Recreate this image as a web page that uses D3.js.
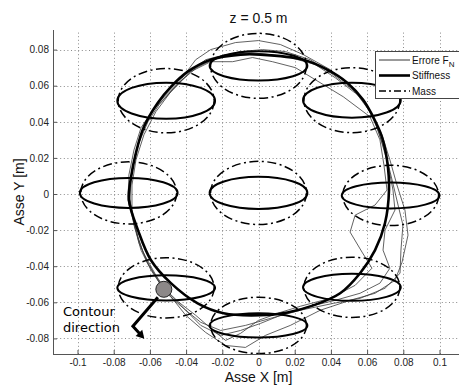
<!DOCTYPE html>
<html>
<head>
<meta charset="utf-8">
<script src="https://cdn.jsdelivr.net/npm/d3@7"></script>
<style>
  html, body { margin: 0; padding: 0; background: #fff; }
  svg { display: block; }
</style>
</head>
<body>
<svg id="chart" width="459" height="385"></svg>
<script>
// ---- tick values and labels ----
const xTickValues = [-0.1, -0.08, -0.06, -0.04, -0.02, 0, 0.02, 0.04, 0.06, 0.08, 0.1];
const xTickLabels = ["-0.1", "-0.08", "-0.06", "-0.04", "-0.02", "0", "0.02", "0.04", "0.06", "0.08", "0.1"];
const yTickValues = [-0.08, -0.06, -0.04, -0.02, 0, 0.02, 0.04, 0.06, 0.08];
const yTickLabels = ["-0.08", "-0.06", "-0.04", "-0.02", "0", "0.02", "0.04", "0.06", "0.08"];

// ---- ellipse centres along the contour (m) ----
const ellipseCenterX = [-0.051, 0, 0.0516, -0.0717, 0, 0.073, -0.051, 0, 0.0516];
const ellipseCenterY = [0.0517, 0.071, 0.052, 0.0006, 0.0006, -0.0008, -0.052, -0.0728, -0.0517];
// stiffness ellipse semi-axes (m)
const stiffnessRx = [0.027, 0.027, 0.027, 0.027, 0.027, 0.027, 0.027, 0.027, 0.027];
const stiffnessRy = [0.0100, 0.0081, 0.0097, 0.0083, 0.0089, 0.0072, 0.0070, 0.0067, 0.0075];
// mass ellipse semi-axes (m)
const massRx = [0.0265, 0.0265, 0.0265, 0.0265, 0.0265, 0.0265, 0.0265, 0.0265, 0.0265];
const massRy = [0.0178, 0.0180, 0.0180, 0.0172, 0.0175, 0.0167, 0.0167, 0.0156, 0.0167];

// ---- thick "Stiffness" contour trajectory [x, y] (m) ----
const stiffnessPath = [
  [-0.0716, -0.0033], [-0.0704, 0.0094], [-0.0677, 0.0228], [-0.0633, 0.0372],
  [-0.0556, 0.0506], [-0.0484, 0.0594], [-0.0391, 0.0678], [-0.0264, 0.0744],
  [-0.0099, 0.0772], [0.0011, 0.0772], [0.0248, 0.0744], [0.0380, 0.0689],
  [0.0490, 0.0617], [0.0578, 0.0522], [0.0633, 0.0428], [0.0682, 0.0317],
  [0.0710, 0.0189], [0.0721, 0.0022], [0.0699, -0.0161], [0.0644, -0.0311],
  [0.0561, -0.0439], [0.0451, -0.0550], [0.0303, -0.0617], [0.0160, -0.0656],
  [0.0011, -0.0672], [-0.0193, -0.0661], [-0.0336, -0.0606], [-0.0484, -0.0494],
  [-0.0594, -0.0367], [-0.0666, -0.0200]
];

// ---- "Errore F_N" trajectories [x, y] (m) ----
const errorRunA = [
  [-0.0523, -0.0528], [-0.0594, -0.0422], [-0.0649, -0.0311], [-0.0688, -0.0172],
  [-0.0710, -0.0033], [-0.0704, 0.0089], [-0.0682, 0.0217], [-0.0638, 0.0356],
  [-0.0583, 0.0467], [-0.0512, 0.0550], [-0.0429, 0.0633], [-0.0347, 0.0744],
  [-0.0264, 0.0800], [-0.0127, 0.0839], [0.0000, 0.0850], [0.0121, 0.0828],
  [0.0248, 0.0772], [0.0396, 0.0689], [0.0517, 0.0589], [0.0605, 0.0478],
  [0.0660, 0.0356], [0.0704, 0.0217], [0.0738, 0.0078], [0.0771, -0.0061],
  [0.0798, -0.0172], [0.0787, -0.0311], [0.0782, -0.0439], [0.0699, -0.0522],
  [0.0561, -0.0578], [0.0413, -0.0606], [0.0231, -0.0644], [0.0066, -0.0689],
  [-0.0072, -0.0728], [-0.0209, -0.0756], [-0.0319, -0.0711], [-0.0402, -0.0644],
  [-0.0484, -0.0572], [-0.0523, -0.0528]
];
const errorRunB = [
  [-0.0539, -0.0506], [-0.0616, -0.0378], [-0.0666, -0.0244], [-0.0699, -0.0089],
  [-0.0699, 0.0050], [-0.0677, 0.0189], [-0.0633, 0.0328], [-0.0567, 0.0456],
  [-0.0484, 0.0567], [-0.0374, 0.0678], [-0.0264, 0.0733], [-0.0143, 0.0733],
  [-0.0033, 0.0756], [0.0077, 0.0733], [0.0204, 0.0700], [0.0314, 0.0633],
  [0.0468, 0.0539], [0.0616, 0.0428], [0.0671, 0.0300], [0.0693, 0.0161],
  [0.0710, 0.0022], [0.0644, -0.0061], [0.0534, -0.0117], [0.0506, -0.0211],
  [0.0572, -0.0322], [0.0627, -0.0411], [0.0534, -0.0506], [0.0396, -0.0578],
  [0.0231, -0.0622], [0.0121, -0.0656], [0.0000, -0.0700], [-0.0099, -0.0772],
  [-0.0182, -0.0811], [-0.0264, -0.0744], [-0.0347, -0.0672], [-0.0440, -0.0600],
  [-0.0539, -0.0506]
];
const errorRunC = [
  [-0.0512, -0.0533], [-0.0567, -0.0450], [-0.0638, -0.0322], [-0.0682, -0.0189],
  [-0.0721, -0.0033], [-0.0716, 0.0106], [-0.0688, 0.0244], [-0.0649, 0.0367],
  [-0.0594, 0.0450], [-0.0528, 0.0522], [-0.0440, 0.0617], [-0.0341, 0.0700],
  [-0.0220, 0.0761], [-0.0099, 0.0789], [0.0022, 0.0800], [0.0149, 0.0789],
  [0.0286, 0.0744], [0.0413, 0.0661], [0.0534, 0.0567], [0.0616, 0.0456],
  [0.0682, 0.0328], [0.0726, 0.0189], [0.0765, 0.0050], [0.0809, -0.0089],
  [0.0826, -0.0228], [0.0793, -0.0378], [0.0754, -0.0478], [0.0644, -0.0550],
  [0.0506, -0.0589], [0.0341, -0.0644], [0.0176, -0.0728], [0.0039, -0.0783],
  [-0.0072, -0.0850], [-0.0182, -0.0839], [-0.0292, -0.0767], [-0.0402, -0.0672],
  [-0.0512, -0.0533]
];
const errorRunD = [
  [-0.0528, -0.0517], [-0.0605, -0.0394], [-0.0660, -0.0272], [-0.0693, -0.0133],
  [-0.0716, -0.0006], [-0.0699, 0.0133], [-0.0666, 0.0272], [-0.0611, 0.0400],
  [-0.0550, 0.0494], [-0.0473, 0.0578], [-0.0385, 0.0672], [-0.0292, 0.0744],
  [-0.0182, 0.0772], [-0.0044, 0.0783], [0.0066, 0.0772], [0.0176, 0.0756],
  [0.0314, 0.0717], [0.0424, 0.0644], [0.0561, 0.0539], [0.0633, 0.0428],
  [0.0677, 0.0300], [0.0716, 0.0161], [0.0743, 0.0022], [0.0754, -0.0089],
  [0.0699, -0.0200], [0.0688, -0.0311], [0.0726, -0.0411], [0.0671, -0.0494],
  [0.0561, -0.0550], [0.0424, -0.0589], [0.0286, -0.0622], [0.0149, -0.0661],
  [0.0011, -0.0717], [-0.0099, -0.0756], [-0.0209, -0.0783], [-0.0319, -0.0728],
  [-0.0429, -0.0617], [-0.0528, -0.0517]
];

// ---- start marker and direction arrow (m) ----
const startPoint = [-0.0523, -0.0528];
const arrowPath = [[-0.0556, -0.0572], [-0.0694, -0.0733], [-0.0642, -0.0790]];

// ---- layout ----
const svg = d3.select("#chart");
const plot = { left: 53, right: 459, top: 30, bottom: 354 };

const x = d3.scaleLinear().domain([-0.1, 0.1]).range([77.5, 439.5]);
const y = d3.scaleLinear().domain([-0.08, 0.08]).range([338.4, 49.6]);

svg.append("defs").append("clipPath").attr("id", "plotClip")
  .append("rect")
  .attr("x", plot.left).attr("y", plot.top)
  .attr("width", plot.right - plot.left).attr("height", plot.bottom - plot.top);

// dotted grid
const grid = svg.append("g").attr("stroke", "#8a8a8a").attr("stroke-width", 1)
  .attr("stroke-dasharray", "1,2.6").attr("fill", "none");
grid.selectAll("line.vx").data(xTickValues).join("line")
  .attr("x1", d => Math.round(x(d)) + 0.5).attr("x2", d => Math.round(x(d)) + 0.5)
  .attr("y1", plot.bottom).attr("y2", plot.top);
grid.selectAll("line.hy").data(yTickValues).join("line")
  .attr("y1", d => Math.round(y(d)) + 0.5).attr("y2", d => Math.round(y(d)) + 0.5)
  .attr("x1", plot.left).attr("x2", plot.right);

const content = svg.append("g").attr("clip-path", "url(#plotClip)");

// force error runs
const thinLine = d3.line().x(d => x(d[0])).y(d => y(d[1])).curve(d3.curveLinear);
const errorRuns = [errorRunA, errorRunB, errorRunC, errorRunD];
content.append("g").selectAll("path").data(errorRuns).join("path")
  .attr("d", thinLine)
  .attr("fill", "none").attr("stroke", "#3a3a3a").attr("stroke-width", 0.8);

// mass ellipses (dash-dot)
const idx = d3.range(ellipseCenterX.length);
content.append("g").selectAll("ellipse").data(idx).join("ellipse")
  .attr("cx", i => x(ellipseCenterX[i])).attr("cy", i => y(ellipseCenterY[i]))
  .attr("rx", i => x(massRx[i]) - x(0)).attr("ry", i => y(0) - y(massRy[i]))
  .attr("fill", "none").attr("stroke", "#000").attr("stroke-width", 1.5)
  .attr("stroke-dasharray", "9,3.5,2,3.5");

// stiffness ellipses (solid)
content.append("g").selectAll("ellipse").data(idx).join("ellipse")
  .attr("cx", i => x(ellipseCenterX[i])).attr("cy", i => y(ellipseCenterY[i]))
  .attr("rx", i => x(stiffnessRx[i]) - x(0)).attr("ry", i => y(0) - y(stiffnessRy[i]))
  .attr("fill", "none").attr("stroke", "#000").attr("stroke-width", 2);

// stiffness trajectory (thick)
const closedLine = d3.line().x(d => x(d[0])).y(d => y(d[1])).curve(d3.curveCatmullRomClosed);
content.append("path").datum(stiffnessPath)
  .attr("d", closedLine)
  .attr("fill", "none").attr("stroke", "#000").attr("stroke-width", 2.6);

// axes
const axisColor = "#555";
const xAxis = d3.axisBottom(x).tickValues(xTickValues)
  .tickFormat((d, i) => xTickLabels[i]).tickSizeInner(-4).tickSizeOuter(0).tickPadding(5);
const gx = svg.append("g").attr("transform", `translate(0,${plot.bottom})`).call(xAxis);
gx.select(".domain").attr("d", `M${plot.left},0.5H${plot.right}`);

const yAxis = d3.axisLeft(y).tickValues(yTickValues)
  .tickFormat((d, i) => yTickLabels[i]).tickSizeInner(-4).tickSizeOuter(0).tickPadding(4);
const gy = svg.append("g").attr("transform", `translate(${plot.left},0)`).call(yAxis);
gy.select(".domain").attr("d", `M0.5,${plot.top}V${plot.bottom}`);

[gx, gy].forEach(g => {
  g.select(".domain").attr("stroke", axisColor).attr("stroke-width", 1);
  g.selectAll(".tick line").attr("stroke", axisColor);
  g.selectAll(".tick text").attr("fill", "#222")
    .style("font-family", "'Liberation Sans', Arial, sans-serif").style("font-size", "10px");
});

// axis titles and plot title
svg.append("text").attr("x", 258.5).attr("y", 382).attr("text-anchor", "middle")
  .style("font-family", "'Liberation Sans', Arial, sans-serif").style("font-size", "14px")
  .attr("fill", "#111").text("Asse X [m]");
svg.append("text").attr("transform", "translate(24,192) rotate(-90)").attr("text-anchor", "middle")
  .style("font-family", "'Liberation Sans', Arial, sans-serif").style("font-size", "14px")
  .attr("fill", "#111").text("Asse Y [m]");
svg.append("text").attr("x", 258.5).attr("y", 23).attr("text-anchor", "middle")
  .style("font-family", "'Liberation Sans', Arial, sans-serif").style("font-size", "14px")
  .attr("fill", "#111").text("z = 0.5 m");

// start marker and contour direction arrow
const arrowLine = d3.line().x(d => x(d[0])).y(d => y(d[1]));
svg.append("path").datum(arrowPath).attr("d", arrowLine)
  .attr("fill", "none").attr("stroke", "#000").attr("stroke-width", 3)
  .attr("stroke-linejoin", "miter");
{
  const p1 = arrowPath[arrowPath.length - 2], p2 = arrowPath[arrowPath.length - 1];
  const ax = x(p2[0]), ay = y(p2[1]);
  const ang = Math.atan2(ay - y(p1[1]), ax - x(p1[0]));
  const len = 8, half = 4.5;
  const tip = [ax + Math.cos(ang) * 3, ay + Math.sin(ang) * 3];
  const base = [tip[0] - Math.cos(ang) * len, tip[1] - Math.sin(ang) * len];
  const pts = [tip,
    [base[0] + Math.sin(ang) * half, base[1] - Math.cos(ang) * half],
    [base[0] - Math.sin(ang) * half, base[1] + Math.cos(ang) * half]];
  svg.append("polygon").attr("points", pts.map(p => p.join(",")).join(" ")).attr("fill", "#000");
}
svg.append("circle").attr("cx", x(startPoint[0])).attr("cy", y(startPoint[1])).attr("r", 8)
  .attr("fill", "#8c8888").attr("stroke", "#222").attr("stroke-width", 1);

const noteFont = "'DejaVu Sans', sans-serif";
svg.append("text").attr("x", 63).attr("y", 316).style("font-family", noteFont)
  .style("font-size", "13px").attr("fill", "#000").text("Contour");
svg.append("text").attr("x", 63).attr("y", 332).style("font-family", noteFont)
  .style("font-size", "13px").attr("fill", "#000").text("direction");

// legend
const legendItems = [
  { label: "Errore F", sub: "N", width: 0.8, dash: null },
  { label: "Stiffness", sub: null, width: 2.6, dash: null },
  { label: "Mass", sub: null, width: 1.5, dash: "7,3,2,3" }
];
const legendRowY = [60, 75.5, 91];
const legend = svg.append("g");
legend.append("rect").attr("x", 375.5).attr("y", 51.5).attr("width", 100).attr("height", 47)
  .attr("fill", "#fff").attr("stroke", "#444").attr("stroke-width", 1);
legendItems.forEach((item, i) => {
  const ly = legendRowY[i];
  legend.append("line").attr("x1", 379).attr("x2", 410).attr("y1", ly).attr("y2", ly)
    .attr("stroke", "#000").attr("stroke-width", item.width)
    .attr("stroke-dasharray", item.dash);
  const t = legend.append("text").attr("x", 412).attr("y", ly + 3.5)
    .style("font-family", "'Liberation Sans', Arial, sans-serif").style("font-size", "10px")
    .attr("fill", "#111").text(item.label);
  if (item.sub) {
    t.append("tspan").attr("dy", 3).style("font-size", "8px").text(item.sub);
  }
});
</script>
</body>
</html>
